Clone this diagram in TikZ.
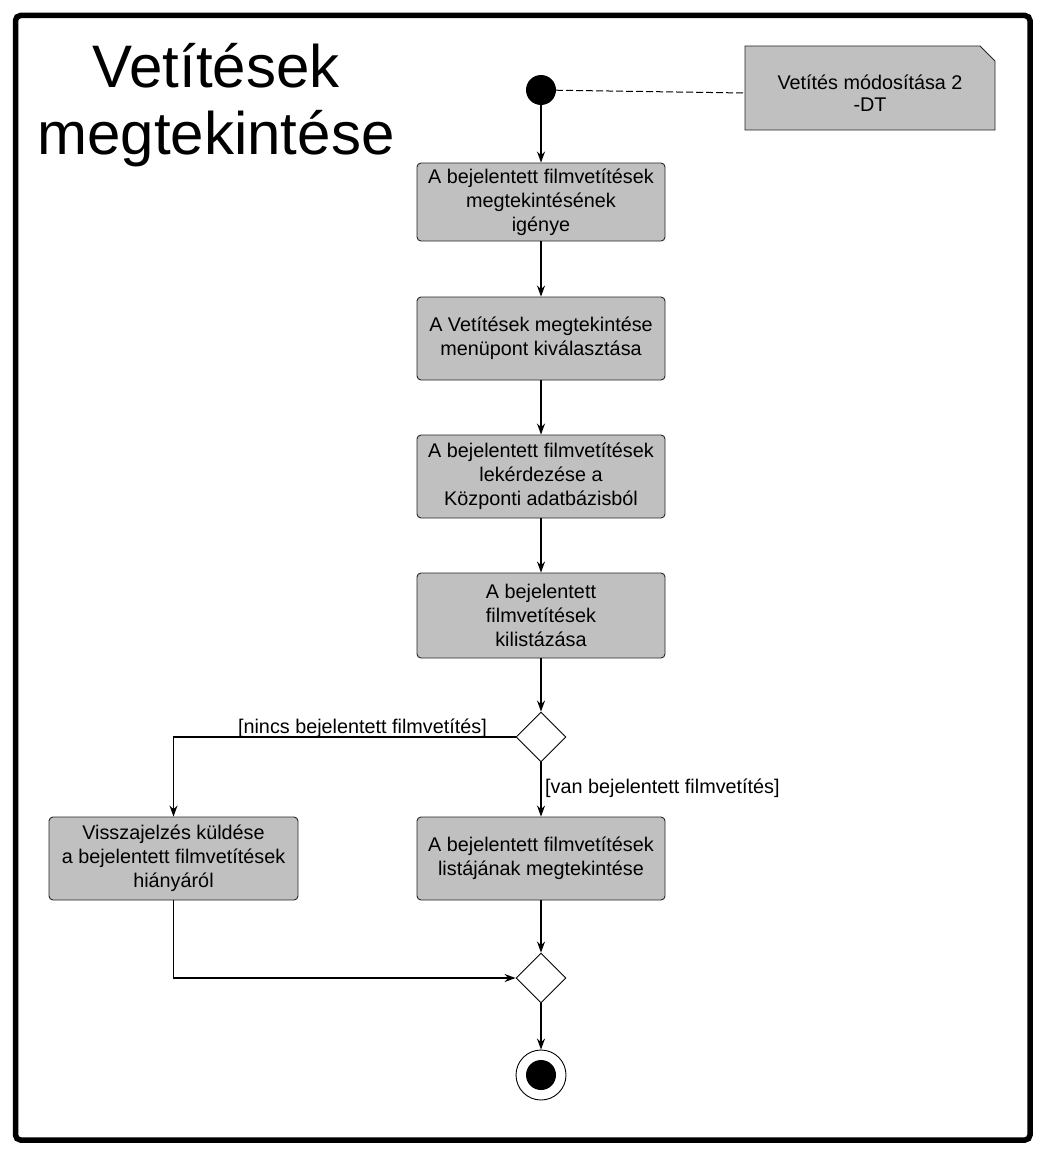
\documentclass[tikz,border=0pt]{standalone}
\usepackage{fontspec}
\setmainfont{Liberation Sans}
\usetikzlibrary{arrows.meta,shapes.geometric}
\definecolor{boxgray}{HTML}{C0C0C0}
\begin{document}
\begin{tikzpicture}[x=1pt,y=-1pt,
  every node/.style={font=\fontsize{19.8}{24}\selectfont},
  act/.style={draw=black!85,fill=boxgray,rounded corners=4pt,minimum width=248pt,align=center,inner sep=0pt,line width=0.9pt},
  dec/.style={draw=black,fill=white,diamond,minimum width=50pt,minimum height=50pt,inner sep=0pt,line width=0.9pt},
  flow/.style={line width=1.2pt,-{Stealth[length=11pt,width=8pt]}},
  lbl/.style={inner sep=0pt}]
\useasboundingbox (0,0) rectangle (1045,1156);
\fill[white] (0,0) rectangle (1045,1156);
\draw[line width=5.5pt,rounded corners=5pt] (15.5,15.5) rectangle (1030,1140);
\node[align=center,font=\fontsize{60}{67}\selectfont] (title) at (216,105) {Vetítések\\megtekintése};
\node[circle,fill=black,minimum size=30pt,inner sep=0pt] (start) at (541,90) {};
\draw[draw=black!85,fill=boxgray,line width=0.9pt] (745,46) -- (980,46) -- (995,61) -- (995,130) -- (745,130) -- cycle;
\node[lbl,align=center,minimum width=250pt,minimum height=84pt,font=\fontsize{19.8}{22.5}\selectfont] (note) at (870,93) {Vetítés módosítása 2\\-DT};
\node[act,minimum height=78pt] (a1) at (541,202) {A bejelentett filmvetítések\\megtekintésének\\igénye};
\node[act,minimum height=83pt] (a2) at (541,338.5) {A Vetítések megtekintése\\menüpont kiválasztása};
\node[act,minimum height=83pt] (a3) at (541,476.5) {A bejelentett filmvetítések\\lekérdezése a\\Központi adatbázisból};
\node[act,minimum height=85pt] (a4) at (541,615.5) {A bejelentett\\filmvetítések\\kilistázása};
\node[dec] (d1) at (541,737) {};
\node[act,minimum width=249pt,minimum height=83pt] (left) at (173.5,858.5) {Visszajelzés küldése\\a bejelentett filmvetítések\\hiányáról};
\node[act,minimum height=83pt] (right) at (541,858.5) {A bejelentett filmvetítések\\listájának megtekintése};
\node[dec] (d2) at (541,978) {};
\node[circle,draw=black,line width=0.9pt,minimum size=50pt,inner sep=0pt] (end) at (541,1075) {};
\node[circle,fill=black,minimum size=30pt,inner sep=0pt] (endin) at (541,1075) {};
\coordinate (lc) at (left.north |- d1.west);
\coordinate (lb) at (left.south |- d2.west);
\draw[dash pattern=on 7pt off 3pt,line width=1pt] (start) -- (note.west);
\draw[flow] (start) -- (a1);
\draw[flow] (a1) -- (a2);
\draw[flow] (a2) -- (a3);
\draw[flow] (a3) -- (a4);
\draw[flow] (a4) -- (d1);
\draw[flow] (d1.west) -- (lc) -- (left.north);
\draw[flow] (d1.south) -- (right.north);
\draw[flow] (left.south) -- (lb) -- (d2.west);
\draw[flow] (right.south) -- (d2.north);
\draw[flow] (d2.south) -- (end.north);
\node[lbl,anchor=base east] (l1) at (487,733) {[nincs bejelentett filmvetítés]};
\node[lbl,anchor=base west] (l2) at (545,793) {[van bejelentett filmvetítés]};
\end{tikzpicture}
\end{document}
